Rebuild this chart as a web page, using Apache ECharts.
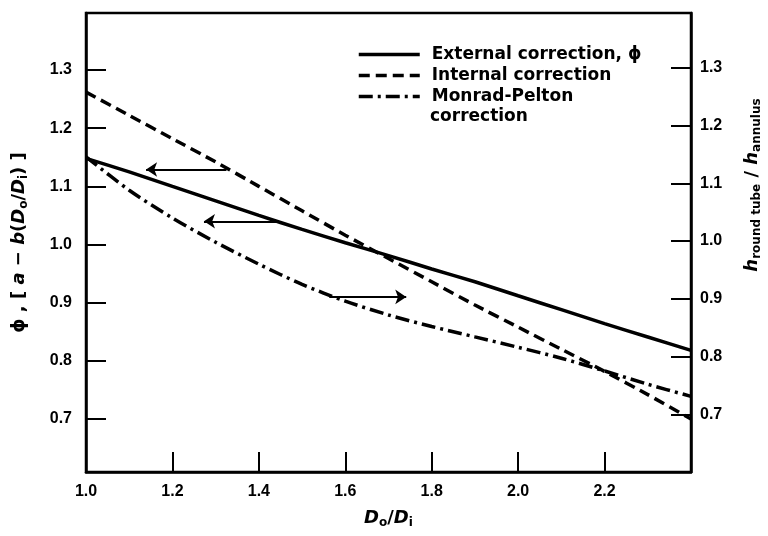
<!DOCTYPE html>
<html>
<head>
<meta charset="utf-8">
<script src="https://cdn.jsdelivr.net/npm/echarts@6/dist/echarts.min.js"></script>
<style>
html, body { margin: 0; padding: 0; background: #fff; }
#main { width: 768px; height: 536px; }
</style>
</head>
<body>
<div id="main"></div>
<script>
// D_o / D_i
var ratio = [1.0, 1.1, 1.2, 1.3, 1.4, 1.5, 1.6, 1.7, 1.8, 1.9, 2.0, 2.1, 2.2, 2.3, 2.4];
// external correction phi (left axis)
var external = [1.148, 1.125, 1.100, 1.075, 1.050, 1.026, 1.003, 0.981, 0.958, 0.936, 0.912, 0.888, 0.864, 0.841, 0.818];
// internal correction (left axis)
var internal = [1.262, 1.222, 1.182, 1.142, 1.100, 1.058, 1.016, 0.976, 0.936, 0.896, 0.858, 0.820, 0.782, 0.742, 0.700];
// Monrad-Pelton correction, h round tube / h annulus (right axis)
var monradPelton = [1.146, 1.088, 1.040, 0.998, 0.960, 0.925, 0.896, 0.872, 0.852, 0.834, 0.816, 0.797, 0.775, 0.752, 0.731];

var leftTicks = [0.7, 0.8, 0.9, 1.0, 1.1, 1.2, 1.3];
var rightTicks = [0.7, 0.8, 0.9, 1.0, 1.1, 1.2, 1.3];
// arrows pointing to the axis each curve belongs to: [x from, y from, x to, y to]
var arrows = [
	[1.325, 1.129, 1.139, 1.129],
	[1.447, 1.040, 1.273, 1.040],
	[1.563, 0.910, 1.741, 0.910]
];

function pairs(ys) {
	var out = [];
	for (var i = 0; i < ratio.length; i++) {
		out.push([ratio[i], ys[i]]);
	}
	return out;
}

var tickFont = {
	color: '#000',
	fontFamily: 'Liberation Sans',
	fontWeight: 'bold',
	fontSize: 16
};
var nameRich = {
	n: { fontFamily: 'DejaVu Sans', fontWeight: 'bold', fontSize: 18, color: '#000' },
	i: { fontFamily: 'DejaVu Sans', fontWeight: 'bold', fontStyle: 'italic', fontSize: 18, color: '#000' },
	s: { fontFamily: 'DejaVu Sans', fontWeight: 'bold', fontSize: 12, color: '#000', padding: [10, 0, 0, 0] }
};

var myChart = echarts.init(document.getElementById('main'));
var option = {
	animation: false,
	backgroundColor: '#fff',
	grid: {
		left: 86,
		right: 77,
		top: 13,
		bottom: 64,
		show: true,
		borderColor: '#000',
		borderWidth: 2.5
	},
	legend: {
		orient: 'vertical',
		left: 357,
		top: 44,
		padding: 0,
		itemGap: 0,
		itemWidth: 61,
		itemHeight: 14,
		itemStyle: { opacity: 0 },
		lineStyle: { width: 3.5 },
		data: ['External correction, ϕ', 'Internal correction', 'Monrad-Pelton correction'],
		formatter: function(name) {
			if (name === 'Monrad-Pelton correction') {
				return 'Monrad-Pelton';
			}
			return name;
		},
		textStyle: {
			color: '#000',
			fontFamily: 'DejaVu Sans',
			fontWeight: 'bold',
			fontSize: 17,
			lineHeight: 21,
			padding: [0, 0, 0, 7]
		}
	},
	xAxis: {
		type: 'value',
		min: 1.0,
		max: 2.4,
		interval: 0.2,
		name: '{i|D}{s|o}{n|/}{i|D}{s|i}',
		nameLocation: 'middle',
		nameGap: 35,
		nameTextStyle: { rich: nameRich },
		axisLine: { onZero: false, lineStyle: { color: '#000', width: 2.5 } },
		axisTick: { inside: true, length: 20, lineStyle: { color: '#000', width: 2 } },
		axisLabel: Object.assign({ margin: 12, showMaxLabel: false, formatter: function(v) { return v.toFixed(1); } }, tickFont),
		splitLine: { show: false }
	},
	yAxis: [{
		type: 'value',
		position: 'left',
		min: 0.609,
		max: 1.398,
		name: '{n|ϕ , [ }{i|a}{n| − }{i|b}{n|(}{i|D}{s|o}{n|/}{i|D}{s|i}{n|) ]}',
		nameLocation: 'middle',
		nameRotate: 90,
		nameGap: 56,
		nameTextStyle: { rich: nameRich },
		axisLine: { onZero: false, lineStyle: { color: '#000', width: 2.5 } },
		axisTick: { inside: true, length: 20, customValues: leftTicks, lineStyle: { color: '#000', width: 2 } },
		axisLabel: Object.assign({ margin: 14, customValues: leftTicks, formatter: function(v) { return v.toFixed(1); } }, tickFont),
		splitLine: { show: false }
	}, {
		type: 'value',
		position: 'right',
		min: 0.6,
		max: 1.395,
		axisLine: { onZero: false, lineStyle: { color: '#000', width: 2.5 } },
		axisTick: { inside: true, length: 20, customValues: rightTicks, lineStyle: { color: '#000', width: 2 } },
		axisLabel: Object.assign({ margin: 9, customValues: rightTicks, formatter: function(v) { return v.toFixed(1); } }, tickFont),
		splitLine: { show: false }
	}],
	series: [{
		name: 'External correction, ϕ',
		type: 'line',
		yAxisIndex: 0,
		data: pairs(external),
		symbol: 'none',
		smooth: 0.2,
		lineStyle: { color: '#000', width: 3.5, type: 'solid' },
		itemStyle: { color: '#000' },
		markLine: {
			silent: true,
			symbol: ['none', 'arrow'],
			symbolSize: 11,
			label: { show: false },
			lineStyle: { color: '#000', width: 2, type: 'solid' },
			data: arrows.map(function(a) {
				return [{ coord: [a[0], a[1]] }, { coord: [a[2], a[3]] }];
			})
		}
	}, {
		name: 'Internal correction',
		type: 'line',
		yAxisIndex: 0,
		data: pairs(internal),
		symbol: 'none',
		smooth: 0.2,
		lineStyle: { color: '#000', width: 3.5, type: [11, 6] },
		itemStyle: { color: '#000' }
	}, {
		name: 'Monrad-Pelton correction',
		type: 'line',
		yAxisIndex: 1,
		data: pairs(monradPelton),
		symbol: 'none',
		smooth: 0.3,
		lineStyle: { color: '#000', width: 3.5, type: [14, 5, 3, 5] },
		itemStyle: { color: '#000' }
	}],
	graphic: [{
		type: 'text',
		left: 430,
		top: 108,
		style: {
			text: 'correction',
			fill: '#000',
			font: 'bold 17px "DejaVu Sans"'
		}
	}, {
		type: 'text',
		x: 752,
		y: 185,
		rotation: Math.PI / 2,
		style: {
			text: '{i|h}{s|round tube}{n| / }{i|h}{s|annulus}',
			align: 'center',
			verticalAlign: 'middle',
			rich: nameRich
		}
	}]
};
myChart.setOption(option);
</script>
</body>
</html>
